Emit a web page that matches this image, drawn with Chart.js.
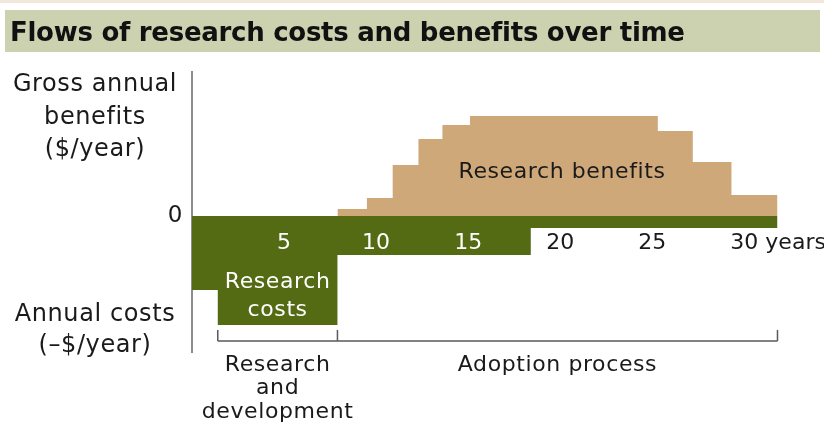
<!DOCTYPE html>
<html>
<head>
<meta charset="utf-8">
<script src="https://cdn.jsdelivr.net/npm/chart.js@4"></script>
<style>
  html, body { margin: 0; padding: 0; background: #fff; }
  #wrap { width: 824px; height: 423px; position: relative; }
</style>
</head>
<body>
<div id="wrap"><canvas id="chart"></canvas></div>
<script>
// step start (years) and annual value for each flow
const benefitYears = [7.9, 9.5, 10.9, 12.3, 13.6, 15.1, 25.3, 27.2, 29.3, 31.8]
const benefitValues = [7, 18, 51, 77, 91, 100, 85, 54, 21, 21]
const costYears = [0, 1.4, 7.9, 18.4, 31.8]
const costValues = [-74, -109, -39, -12, -12]

const xTicks = [5, 10, 15, 20, 25, 30]
const xTickLabels = ['5', '10', '15', '20', '25', '30']
const xUnit = ' years'

// research phases: bounds and label lines
const phaseBounds = [1.4, 7.9, 31.8]
const phaseLabels = [['Research', 'and', 'development'], ['Adoption process']]

const green = '#546b14'
const tan = '#cfa87a'

function toPoints(xs, ys) {
  return xs.map((x, i) => ({ x: x, y: ys[i] }))
}

function font(size, weight) {
  return (weight ? weight + ' ' : '') + size + 'px "DejaVu Sans"'
}

const decor = {
  id: 'decor',
  beforeDraw(chart) {
    const ctx = chart.ctx
    ctx.save()
    // top strip and title bar
    ctx.fillStyle = '#f2e7da'
    ctx.fillRect(0, 0, 824, 3)
    ctx.fillStyle = '#ccd2b0'
    ctx.fillRect(5, 10, 815, 42)
    ctx.fillStyle = '#111'
    ctx.textBaseline = 'alphabetic'
    const title = 'Flows of research costs and benefits over time'
    ctx.font = font(26, 'bold')
    ctx.letterSpacing = '0px'
    const w = ctx.measureText(title).width
    // small spacing tweak so the title ends where the reference does
    const ls = (674 - w) / (title.length - 1)
    ctx.letterSpacing = ls.toFixed(2) + 'px'
    ctx.fillText(title, 10, 41)
    ctx.restore()
  },
  afterDatasetsDraw(chart) {
    const ctx = chart.ctx
    const x = chart.scales.x
    const y = chart.scales.y
    ctx.save()
    ctx.letterSpacing = '0.6px'
    ctx.textBaseline = 'middle'
    ctx.textAlign = 'center'

    // axis titles
    ctx.fillStyle = '#1a1a1a'
    ctx.font = font(24)
    ;['Gross annual', 'benefits', '($/year)'].forEach((t, i) => ctx.fillText(t, 95, 85 + i * 32.5))
    ;['Annual costs', '(\u2013$/year)'].forEach((t, i) => ctx.fillText(t, 95, 315 + i * 31))
    ctx.font = font(23)
    ctx.textAlign = 'right'
    ctx.fillText('0', 183, y.getPixelForValue(0))

    // x tick labels, white while they sit on the cost band
    ctx.letterSpacing = '0px'
    ctx.font = font(22)
    const ty = y.getPixelForValue(0) + 27
    xTicks.forEach((v, i) => {
      const px = x.getPixelForValue(v)
      const onBand = v < costYears[3]
      ctx.fillStyle = onBand ? '#fff' : '#1a1a1a'
      if (i === xTicks.length - 1) {
        const lw = ctx.measureText(xTickLabels[i]).width
        ctx.textAlign = 'left'
        ctx.fillText(xTickLabels[i] + xUnit, px - lw / 2, ty)
      } else {
        ctx.textAlign = 'center'
        ctx.fillText(xTickLabels[i], px, ty)
      }
    })

    // series labels
    ctx.letterSpacing = '0.6px'
    ctx.textAlign = 'center'
    ctx.fillStyle = '#1a1a1a'
    ctx.fillText('Research benefits', 562, 172)
    ctx.fillStyle = '#fff'
    const rc = (x.getPixelForValue(phaseBounds[0]) + x.getPixelForValue(phaseBounds[1])) / 2
    ctx.fillText('Research', rc, 282)
    ctx.fillText('costs', rc, 310)

    // phase bracket
    ctx.strokeStyle = '#5a5a5a'
    ctx.lineWidth = 1.5
    const by = 341
    const bl = x.getPixelForValue(phaseBounds[0])
    const br = x.getPixelForValue(phaseBounds[phaseBounds.length - 1])
    ctx.beginPath()
    ctx.moveTo(bl, by)
    ctx.lineTo(br, by)
    phaseBounds.forEach(b => {
      const px = x.getPixelForValue(b)
      ctx.moveTo(px, by)
      ctx.lineTo(px, 330)
    })
    ctx.stroke()

    ctx.fillStyle = '#1a1a1a'
    ctx.font = font(22)
    phaseLabels.forEach((lines, i) => {
      const cx = (x.getPixelForValue(phaseBounds[i]) + x.getPixelForValue(phaseBounds[i + 1])) / 2
      lines.forEach((t, j) => ctx.fillText(t, cx, 365 + j * 23.5))
    })
    ctx.restore()
  },
}

new Chart(document.getElementById('chart'), {
  type: 'line',
  data: {
    datasets: [
      {
        label: 'Research costs',
        data: toPoints(costYears, costValues),
        stepped: true,
        fill: 'origin',
        backgroundColor: green,
        borderWidth: 0,
        pointRadius: 0,
      },
      {
        label: 'Research benefits',
        data: toPoints(benefitYears, benefitValues),
        stepped: true,
        fill: 'origin',
        backgroundColor: tan,
        borderWidth: 0,
        pointRadius: 0,
      },
    ],
  },
  options: {
    responsive: true,
    maintainAspectRatio: false,
    animation: false,
    layout: { padding: { top: 72, bottom: 71, left: 192, right: 6 } },
    plugins: {
      legend: { display: false },
      tooltip: { enabled: false },
    },
    scales: {
      x: { type: 'linear', min: 0, max: 34, display: false },
      y: {
        min: -136,
        max: 144,
        ticks: { display: false },
        grid: { display: false, drawTicks: false },
        border: { display: true, color: '#8c8c8c', width: 2 },
      },
    },
  },
  plugins: [decor],
})
</script>
</body>
</html>
